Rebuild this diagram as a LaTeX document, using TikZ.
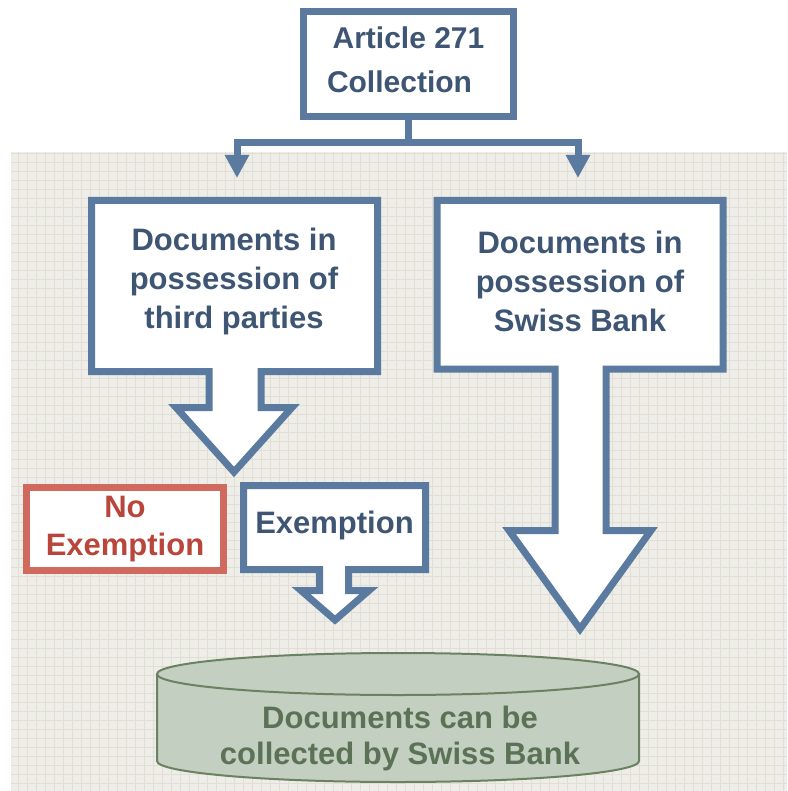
\documentclass[tikz,border=0pt]{standalone}
\usepackage{fontspec}
\setmainfont{Liberation Sans}
\usetikzlibrary{arrows.meta}

\definecolor{frameblue}{HTML}{5B7A9F}
\definecolor{textblue}{HTML}{3E5673}
\definecolor{framered}{HTML}{D0695E}
\definecolor{textred}{HTML}{B9463B}
\definecolor{tankfill}{HTML}{C3CFC0}
\definecolor{tankline}{HTML}{6A8262}
\definecolor{tanktext}{HTML}{5C7256}
\definecolor{paper}{HTML}{EFEDE7}
\definecolor{paperline}{HTML}{E1DED6}

\begin{document}
\begin{tikzpicture}[x=1pt, y=-1pt,
        label/.style = {align = center, font = \bfseries\fontsize{31}{39}\selectfont, text = textblue},
        box/.style = {draw = frameblue, fill = white, line width = 7pt, inner sep = 0pt},
        callout/.style = {draw = frameblue, fill = white, line width = 7pt},
        link/.style = {draw = frameblue, line width = 7pt, -{Triangle[width = 23pt, length = 23pt]}},
        tank/.style = {draw = tankline, fill = tankfill, line width = 2pt}]
    \useasboundingbox (0,0) rectangle (787,791);

    % squared paper behind the lower part
    \fill[paper] (11,152) rectangle (787,791);
    \draw[paperline, line width = 0.8pt] (11,152) grid[step = 9pt] (787,791);

    \node[box, minimum width = 210pt, minimum height = 105pt, text depth = 8pt, label,
        font = \bfseries\fontsize{30}{44}\selectfont]
        (article) at (408.5,64) {Article 271\\Collection\rule{18pt}{0pt}};

    \coordinate (tipL) at (237,178);
    \coordinate (tipR) at (578,178);
    \draw[link] (article.south) -- ++(0,22.5) -| (tipL);
    \draw[link] (article.south) -- ++(0,22.5) -| (tipR);

    % big arrow boxes
    \draw[callout] (91.5,200.5) -- (377.5,200.5) -- (377.5,371.5) -- (261,371.5) -- (261,407.5)
        -- (292,407.5) -- (234,472) -- (176,407.5) -- (209,407.5) -- (209,371.5) -- (91.5,371.5) -- cycle;
    \node[label] (third) at (234,281) {Documents in\\possession of\\third parties};

    \draw[callout] (437,200.5) -- (723,200.5) -- (723,369) -- (606,369) -- (606,530.5)
        -- (651,530.5) -- (580,629) -- (509,530.5) -- (555,530.5) -- (555,369) -- (437,369) -- cycle;
    \node[label] (bank) at (580,281) {Documents in\\possession of\\Swiss Bank};

    \node[box, draw = framered, minimum width = 197pt, minimum height = 83pt, label, text = textred,
        font = \bfseries\fontsize{31}{38}\selectfont] (noexempt) at (125,529) {No\\Exemption};

    \draw[callout] (243.5,485.5) -- (425.5,485.5) -- (425.5,569.5) -- (348.5,569.5) -- (348.5,590.5)
        -- (369,590.5) -- (335,620) -- (301,590.5) -- (319.5,590.5) -- (319.5,569.5) -- (243.5,569.5) -- cycle;
    \node[label] (exempt) at (334.5,525) {Exemption};

    % the store at the bottom
    \filldraw[tank] (157,674) -- (157,761) arc[start angle = 180, end angle = 360, x radius = 241pt, y radius = 21pt]
        -- (639,674) -- cycle;
    \filldraw[tank] (398,674) ellipse[x radius = 241pt, y radius = 21pt];
    \node[label, text = tanktext, font = \bfseries\fontsize{31}{36}\selectfont] (store) at (400,738)
        {Documents can be\\collected by Swiss Bank};
\end{tikzpicture}
\end{document}
